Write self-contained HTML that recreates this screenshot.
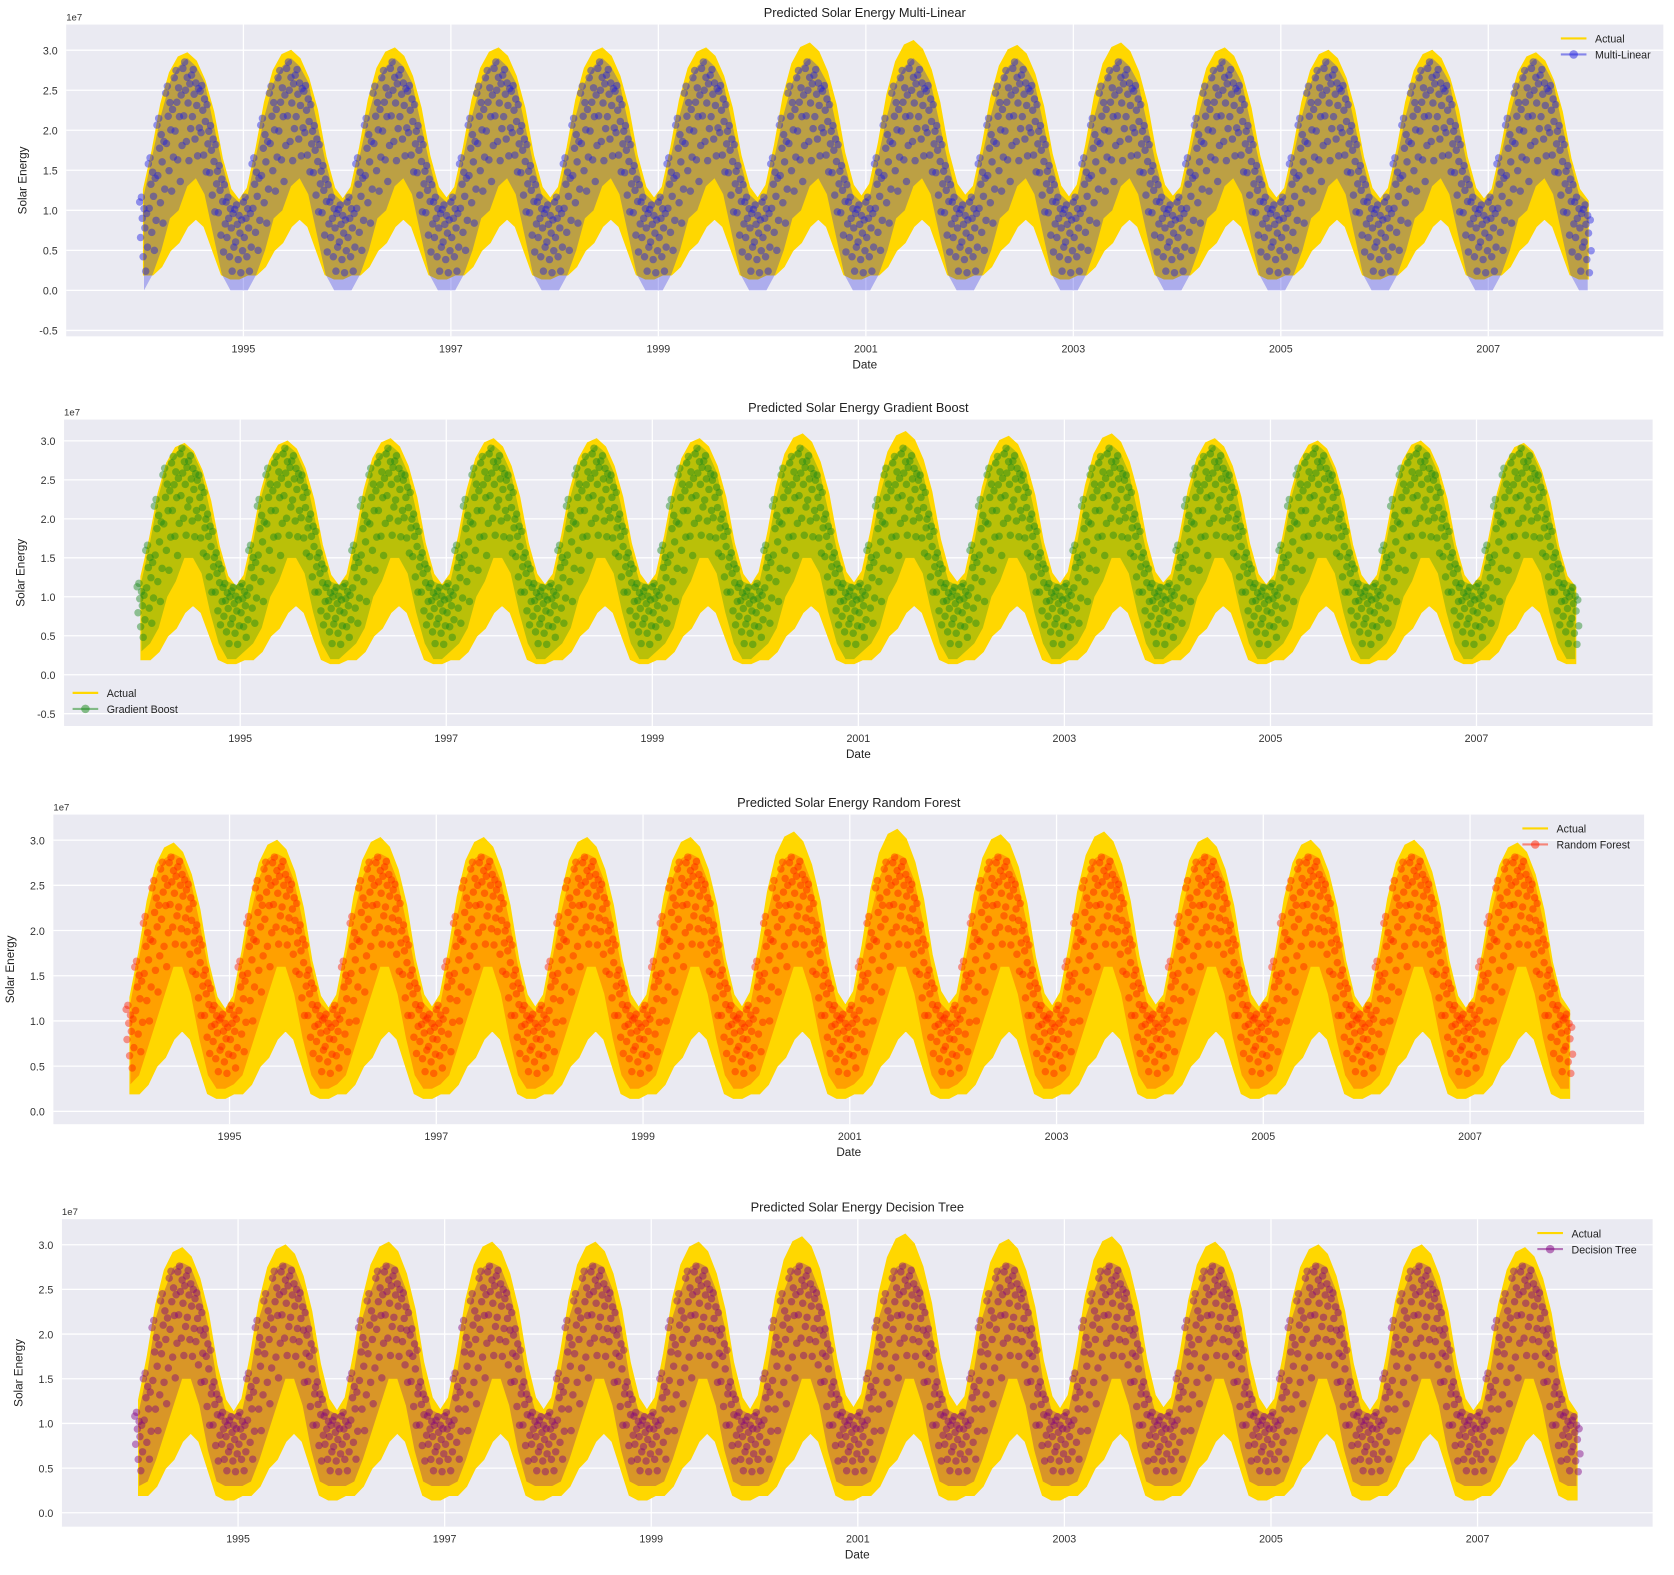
<!DOCTYPE html>
<html><head><meta charset="utf-8">
<style>
html,body{margin:0;padding:0;background:#fff;}
body{width:1674px;height:1570px;overflow:hidden;font-family:"Liberation Sans",sans-serif;}
svg text{font-family:"Liberation Sans",sans-serif;}
</style></head>
<body>
<svg id="chart" width="1674" height="1570" xmlns="http://www.w3.org/2000/svg"><g id="root" transform="scale(1.0676)"></g></svg>
<script>
// ---- data (units of 1e7) ----
const yearLabels = ["1995","1997","1999","2001","2003","2005","2007"];
const yTicks = [-0.5,0.0,0.5,1.0,1.5,2.0,2.5,3.0];
const years = [1994,1995,1996,1997,1998,1999,2000,2001,2002,2003,2004,2005,2006,2007];
const yearFactor = [0.97,0.98,0.99,0.99,0.99,0.99,1.01,1.02,1.0,1.01,0.99,0.98,0.98,0.97];
const actualHigh = [1.3,1.8,2.4,2.8,3.0,3.05,2.95,2.7,2.3,1.7,1.3,1.15];
const actualLow  = [0.2,0.2,0.3,0.5,0.6,0.8,0.9,0.8,0.5,0.2,0.15,0.15];
const mlHigh = [1.2,1.7,2.2,2.6,2.8,2.9,2.8,2.6,2.1,1.6,1.2,1.1];
const mlLow  = [0.0,0.2,0.5,0.9,1.0,1.3,1.4,1.2,0.7,0.2,0.0,0.0];
const gbHigh = [1.2,1.7,2.3,2.7,2.85,2.95,2.85,2.6,2.1,1.6,1.2,1.15];
const gbLow  = [0.3,0.4,0.6,1.0,1.2,1.5,1.5,1.3,0.8,0.4,0.2,0.2];
const rfHigh = [1.2,1.7,2.2,2.6,2.8,2.85,2.8,2.55,2.1,1.6,1.2,1.1];
const rfLow  = [0.3,0.4,0.7,1.0,1.3,1.6,1.6,1.3,0.8,0.4,0.25,0.25];
const dtHigh = [1.15,1.6,2.2,2.5,2.75,2.8,2.75,2.5,2.1,1.5,1.15,1.1];
const dtLow  = [0.3,0.35,0.6,0.9,1.2,1.5,1.5,1.2,0.7,0.35,0.3,0.3];

const NS="http://www.w3.org/2000/svg";
const svg=document.getElementById('root');
function mk(tag,attrs,parent){const e=document.createElementNS(NS,tag);for(const k in attrs)e.setAttribute(k,attrs[k]);(parent||svg).appendChild(e);return e;}
const dotFrac=[0.92,0.55,0.97,0.75,0.35,0.85,0.65,0.2,0.8,0.45];

function panel(cfg){
  const g=mk('g',{});
  
  
  const L=cfg.left,R=cfg.right,T=cfg.top,B=cfg.bottom;
  const xs=y=>cfg.x1995+(y-1995)*cfg.pxYear;
  const ys=v=>cfg.y0-v*cfg.pxUnit;
  const bg=mk('rect',{x:L,y:T,width:R-L,height:B-T,fill:'#eaeaf2'},g);
  
  yTicks.forEach(t=>{const y=ys(t);if(y<T||y>B)return;
    mk('line',{x1:L,x2:R,y1:y,y2:y,stroke:'#fff','stroke-width':1.2},g);
    const tx=mk('text',{x:L-8,y:y+4,'font-size':10,'text-anchor':'end',fill:'#333'},g);tx.textContent=t.toFixed(1);
    });
  yearLabels.forEach(l=>{const x=xs(+l);
    mk('line',{x1:x,x2:x,y1:T,y2:B,stroke:'#fff','stroke-width':1.2},g);
    const tx=mk('text',{x:x,y:B+15,'font-size':10,'text-anchor':'middle',fill:'#333'},g);tx.textContent=l;
    });
  const e7=mk('text',{x:L,y:T-4,'font-size':9,fill:'#333'},g);e7.textContent='1e7';
  const ti=mk('text',{x:(L+R)/2,y:T-7,'font-size':12,'text-anchor':'middle',fill:'#222'},g);ti.textContent=cfg.title;
  
  const xl=mk('text',{x:(L+R)/2,y:B+30,'font-size':11,'text-anchor':'middle',fill:'#222'},g);xl.textContent='Date';
  
  const yl=mk('text',{x:0,y:0,'font-size':11,'text-anchor':'middle',fill:'#222',transform:`translate(${L-37},${(T+B)/2}) rotate(-90)`},g);yl.textContent='Solar Energy';
  
  function pts(hi,lo,scale){const up=[],dn=[];
    years.forEach((yr,yi)=>{for(let m=0;m<12;m++){const t=yr+(m+0.5)/12;const f=scale?yearFactor[yi]:1;
      up.push([xs(t),ys(hi[m]*f)]);dn.push([xs(t),ys(lo[m])]);}});
    return {up,dn};}
  const a=pts(actualHigh,actualLow,true);
  const poly=a.up.concat(a.dn.slice().reverse()).map(p=>p.join(',')).join(' ');
  const act=mk('polygon',{points:poly,fill:'#ffd700',stroke:'#ffd700','stroke-width':2},g);
  
  const p=pts(cfg.hi,cfg.lo,false);
  const poly2=p.up.concat(p.dn.slice().reverse()).map(q=>q.join(',')).join(' ');
  const pb=mk('polygon',{points:poly2,fill:cfg.color,'fill-opacity':0.3},g);
  
  const dg=mk('g',{fill:cfg.color,'fill-opacity':0.45},g);
  
  years.forEach((yr)=>{for(let m=0;m<12;m++){for(let k=0;k<dotFrac.length;k++){
    const t=yr+(m+k/dotFrac.length)/12;
    const hi=cfg.hi[m],lo=cfg.lo[m];
    const v=lo+dotFrac[k]*(hi-lo);
    mk('circle',{cx:xs(t),cy:ys(v),r:3.5},dg);}}});
  const lg=mk('g',{},g);
  const lx=cfg.legX,ly=cfg.legY;
  mk('line',{x1:lx,x2:lx+24,y1:ly,y2:ly,stroke:'#ffd700','stroke-width':2},lg);
  const t1=mk('text',{x:lx+32,y:ly+4,'font-size':10,fill:'#222'},lg);t1.textContent='Actual';
  mk('line',{x1:lx,x2:lx+24,y1:ly+15,y2:ly+15,stroke:cfg.color,'stroke-opacity':0.5,'stroke-width':2},lg);
  mk('circle',{cx:lx+12,cy:ly+15,r:4,fill:cfg.color,'fill-opacity':0.5},lg);
  const t2=mk('text',{x:lx+32,y:ly+19,'font-size':10,fill:'#222'},lg);t2.textContent=cfg.label;
}
panel({name:'multi-linear-panel',title:'Predicted Solar Energy Multi-Linear',left:62,right:1558,top:23,bottom:315,x1995:228,pxYear:97.17,y0:272,pxUnit:75,hi:mlHigh,lo:mlLow,color:'#2020e0',label:'Multi-Linear',legX:1462,legY:36});
panel({name:'gradient-boost-panel',title:'Predicted Solar Energy Gradient Boost',left:60,right:1548,top:393,bottom:680,x1995:225,pxYear:96.5,y0:632,pxUnit:73,hi:gbHigh,lo:gbLow,color:'#1a8a1a',label:'Gradient Boost',legX:68,legY:649});
panel({name:'random-forest-panel',title:'Predicted Solar Energy Random Forest',left:50,right:1540,top:763,bottom:1053,x1995:215,pxYear:96.83,y0:1041,pxUnit:84.7,hi:rfHigh,lo:rfLow,color:'#ff2000',label:'Random Forest',legX:1426,legY:776});
panel({name:'decision-tree-panel',title:'Predicted Solar Energy Decision Tree',left:58,right:1548,top:1142,bottom:1430,x1995:223,pxYear:96.75,y0:1417,pxUnit:83.7,hi:dtHigh,lo:dtLow,color:'#800080',label:'Decision Tree',legX:1440,legY:1155});
</script>
</body></html>
